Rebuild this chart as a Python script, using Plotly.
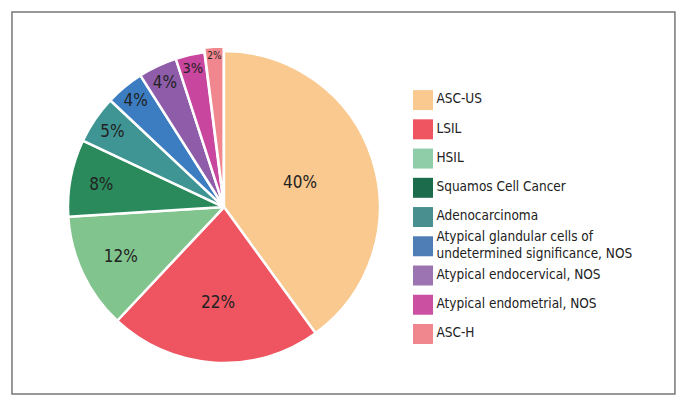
import plotly.graph_objects as go

categories = ["ASC-US", "LSIL", "HSIL", "Squamos Cell Cancer", "Adenocarcinoma",
              "Atypical glandular cells of<br>undetermined significance, NOS",
              "Atypical endocervical, NOS", "Atypical endometrial, NOS", "ASC-H"]
values = [40, 22, 12, 8, 5, 4, 4, 3, 2]
slice_labels = ["40%", "22%", "12%", "8%", "5%", "4%", "4%", "3%", "2%"]
colors = ["#F9C98F", "#EE5560", "#82C48E", "#2A8A5C", "#3F9593",
          "#3B7DC0", "#8E5CA8", "#C8469E", "#F0868E"]
legend_colors = ["#F9C98F", "#EE5560", "#8ECDA8", "#1B6B4C", "#4A8F90",
                 "#4F7DB5", "#9C74B2", "#CC50A2", "#F0868E"]

FONT = "DejaVu Sans Condensed, Liberation Sans Narrow, Arial"

fig = go.Figure()
fig.add_trace(go.Pie(
    labels=categories, values=values, text=slice_labels,
    textinfo="text", textposition="inside", insidetextorientation="horizontal",
    sort=False, direction="clockwise", rotation=0,
    marker=dict(colors=colors, line=dict(color="white", width=2.5)),
    pull=[0, 0, 0, 0, 0, 0, 0, 0, 0.03],
    textfont=dict(size=17, color="#222222", family=FONT),
    domain=dict(x=[0.092, 0.559], y=[0.0966, 0.886]),
    hoverinfo="label+text", showlegend=False,
))

# legend drawn as a category-axis scatter
fig.add_trace(go.Scatter(
    x=[0] * len(categories), y=categories,
    mode="markers+text", text=categories, textposition="middle right",
    marker=dict(symbol="square", size=20, color=legend_colors, line=dict(width=0)),
    textfont=dict(size=13.5, color="#222222", family=FONT),
    cliponaxis=False, hoverinfo="skip", showlegend=False,
    xaxis="x", yaxis="y",
))

fig.add_shape(type="rect", xref="paper", yref="paper",
              x0=0.0174, x1=0.981, y0=0.032, y1=0.9705,
              line=dict(color="#777777", width=1.5), fillcolor="rgba(0,0,0,0)")

fig.update_layout(
    width=688, height=407,
    margin=dict(l=0, r=0, t=0, b=0),
    paper_bgcolor="white", plot_bgcolor="rgba(0,0,0,0)",
    showlegend=False,
    xaxis=dict(domain=[0.6148, 1.0], range=[0, 1], visible=False, fixedrange=True),
    yaxis=dict(domain=[0.1435, 0.790], type="category", categoryorder="array",
               categoryarray=categories, range=[len(categories) - 0.5, -0.5],
               visible=False, fixedrange=True),
)

fig.write_html("out.html", config={"displayModeBar": False},
               post_script="document.body.style.margin='0';")
